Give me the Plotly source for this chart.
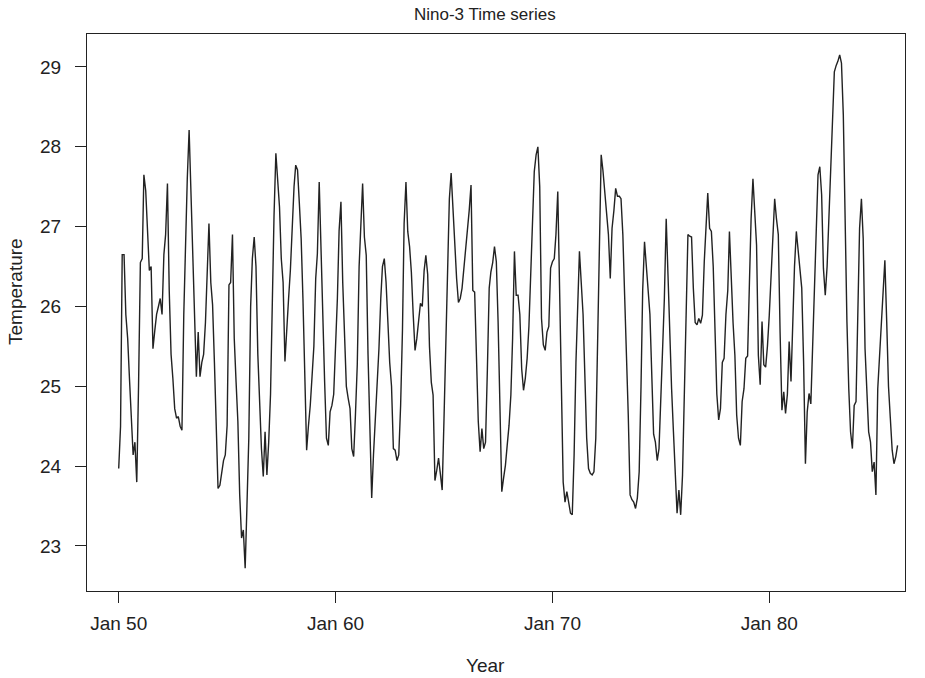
import pandas as pd
import plotly.graph_objects as go

title_text = "Nino-3 Time series"
x_title = "Year"
y_title = "Temperature"
start_month = "1950-01-01"

temperature = [
    23.97, 24.5, 26.65, 26.65, 25.9, 25.6, 25.1, 24.5, 24.14, 24.3, 23.8, 25.0,
    26.55, 26.6, 27.65, 27.45, 27.0, 26.45, 26.5, 25.47, 25.7, 25.9, 26.0, 26.1,
    25.9, 26.65, 26.9, 27.54, 26.2, 25.4, 25.1, 24.72, 24.6, 24.62, 24.5, 24.45,
    25.9, 26.9, 27.6, 28.21, 27.4, 26.56, 25.8, 25.12, 25.68, 25.12, 25.3, 25.4,
    25.8, 26.56, 27.04, 26.3, 26.02, 25.3, 24.41, 23.72, 23.76, 23.91, 24.07, 24.14,
    24.51, 26.27, 26.3, 26.9, 25.6, 25.05, 24.56, 23.64, 23.1, 23.2, 22.72, 23.5,
    24.35, 26.0, 26.6, 26.87, 26.5, 25.4, 24.68, 24.22, 23.87, 24.43, 23.89, 24.3,
    24.9, 26.3, 27.14, 27.92, 27.6, 27.25, 26.6, 26.3, 25.31, 25.75, 26.1, 26.45,
    27.1, 27.5, 27.77, 27.71, 27.3, 26.85, 26.1, 25.22, 24.2, 24.5, 24.76, 25.12,
    25.5, 26.35, 26.66, 27.56, 26.64, 25.9, 25.06, 24.35, 24.26, 24.68, 24.76, 24.9,
    25.5, 26.1, 26.95, 27.31, 26.3, 25.6, 25.0, 24.85, 24.72, 24.22, 24.12, 24.64,
    25.27, 26.5, 27.06, 27.54, 26.87, 26.64, 25.4, 24.4, 23.6, 24.14, 24.56, 25.0,
    25.47, 26.1, 26.5, 26.6, 26.3, 25.8, 25.3, 25.0, 24.22, 24.2, 24.07, 24.14,
    24.76, 25.7, 27.04, 27.56, 26.94, 26.75, 26.43, 25.9, 25.45, 25.6, 25.85, 26.04,
    26.0, 26.45, 26.64, 26.4, 25.5, 25.05, 24.89, 23.82, 23.95, 24.1, 23.9, 23.7,
    24.6, 25.7, 26.6, 27.35, 27.67, 27.2, 26.7, 26.35, 26.05, 26.1, 26.23, 26.48,
    26.7, 26.9, 27.2, 27.52, 26.2, 26.18, 25.3, 24.56, 24.18, 24.47, 24.22, 24.3,
    25.2, 26.23, 26.43, 26.55, 26.75, 26.56, 25.8, 24.64, 23.68, 23.85, 24.01, 24.26,
    24.51, 24.89, 25.6, 26.69, 26.14, 26.14, 25.9, 25.22, 24.95, 25.1, 25.35, 25.75,
    26.4, 26.94, 27.69, 27.9, 28.0, 27.5, 25.85, 25.52, 25.45, 25.68, 25.75, 26.48,
    26.56, 26.6, 26.9, 27.44, 26.31, 24.97, 23.8, 23.55, 23.68, 23.55, 23.41, 23.39,
    24.14, 25.3, 25.9, 26.69, 26.3, 25.9, 25.14, 24.35, 23.97, 23.91, 23.89, 23.93,
    24.35, 25.43, 26.5, 27.9, 27.7, 27.44, 27.19, 26.9, 26.35, 26.98, 27.2, 27.48,
    27.38, 27.38, 27.35, 26.9, 26.14, 25.5, 24.64, 23.64, 23.58, 23.55, 23.47, 23.6,
    23.93, 25.0, 26.2, 26.81, 26.55, 26.2, 25.9, 25.1, 24.4, 24.3, 24.07, 24.22,
    25.0, 25.5, 26.1, 27.1, 26.4, 25.6, 24.97, 24.43, 23.93, 23.41, 23.7, 23.39,
    23.89, 24.9, 25.81, 26.9, 26.88, 26.87, 26.23, 25.8, 25.77, 25.85, 25.79, 25.89,
    26.56, 26.98, 27.42, 26.98, 26.94, 26.5, 25.81, 24.9, 24.58, 24.72, 25.3, 25.35,
    25.9, 26.2, 26.94, 26.23, 25.8, 25.39, 24.64, 24.35, 24.26, 24.81, 24.97, 25.35,
    25.38, 26.3, 27.1, 27.6, 27.19, 26.77, 25.39, 25.02, 25.81, 25.27, 25.24, 25.5,
    25.89, 26.4, 26.9, 27.35, 27.1, 26.9, 25.68, 24.7, 24.93, 24.66, 24.9, 25.56,
    25.06, 25.89, 26.5, 26.94, 26.73, 26.5, 26.23, 25.31, 24.03, 24.68, 24.91, 24.78,
    25.52, 26.27, 26.9, 27.65, 27.75, 27.4, 26.48, 26.14, 26.5, 27.06, 27.6, 28.19,
    28.94, 29.02, 29.07, 29.15, 29.05, 28.4, 27.06, 25.81, 24.97, 24.43, 24.22, 24.76,
    24.81, 25.9, 26.98, 27.35, 26.85, 25.47, 24.9, 24.43, 24.3, 23.93, 24.05, 23.64,
    24.97, 25.4, 25.81, 26.3, 26.58, 25.81, 25.0, 24.6, 24.2, 24.03, 24.12, 24.26,
]

x_tick_dates = ["1950-01-01", "1960-01-01", "1970-01-01", "1980-01-01"]
x_tick_labels = ["Jan 50", "Jan 60", "Jan 70", "Jan 80"]
y_tick_values = [23, 24, 25, 26, 27, 28, 29]
y_tick_labels = ["23", "24", "25", "26", "27", "28", "29"]

dates = pd.date_range(start_month, periods=len(temperature), freq="MS")

FONT = "Liberation Sans, Arial, sans-serif"
INK = "#222222"
FS = 19
W, H = 925, 678
ML, MR, MT, MB = 87, 20, 34, 87
PW, PH = W - ML - MR, H - MT - MB

fig = go.Figure()
fig.add_trace(go.Scatter(
    x=dates, y=temperature, mode="lines",
    line=dict(color=INK, width=1.4),
    hoverinfo="x+y", showlegend=False,
))

fig.update_layout(
    width=W, height=H,
    paper_bgcolor="white", plot_bgcolor="white",
    margin=dict(l=ML, r=MR, t=MT, b=MB, pad=0),
    font=dict(family=FONT, size=FS, color=INK),
    xaxis=dict(
        type="date",
        range=["1948-07-16", "1986-04-05"],
        tickvals=x_tick_dates, ticktext=x_tick_labels,
        ticks="outside", ticklen=11, tickwidth=1.3, tickcolor=INK,
        showline=True, linecolor=INK, linewidth=1.3, mirror=True,
        showgrid=False, zeroline=False,
        tickfont=dict(family=FONT, size=FS, color=INK),
        ticklabelstandoff=4,
    ),
    yaxis=dict(
        range=[22.436, 29.413],
        tickvals=y_tick_values, ticktext=y_tick_labels,
        ticks="outside", ticklen=11, tickwidth=1.3, tickcolor=INK,
        showline=True, linecolor=INK, linewidth=1.3, mirror=True,
        showgrid=False, zeroline=False,
        tickfont=dict(family=FONT, size=FS, color=INK),
        ticklabelstandoff=10,
    ),
    annotations=[
        dict(text=title_text, xref="paper", yref="paper",
             x=(485 - ML) / PW, y=(H - MB - 14) / PH - (H - MB - MT) / PH + 1 + 0,
             xanchor="center", yanchor="middle", showarrow=False,
             font=dict(family=FONT, size=17, color=INK)),
        dict(text=x_title, xref="paper", yref="paper",
             x=(485 - ML) / PW, y=-(665 - (H - MB)) / PH,
             xanchor="center", yanchor="middle", showarrow=False,
             font=dict(family=FONT, size=FS, color=INK)),
        dict(text=y_title, xref="paper", yref="paper",
             x=-(ML - 15) / PW, y=((H - MB) - 292) / PH,
             xanchor="center", yanchor="middle", showarrow=False, textangle=-90,
             font=dict(family=FONT, size=FS, color=INK)),
    ],
)
# title annotation: place its centre 14 px below the top of the page
fig.layout.annotations[0].y = 1 + (MT - 14) / PH

fig.write_html("out.html", config={"displayModeBar": False},
               post_script="document.body.style.margin='0px';")
